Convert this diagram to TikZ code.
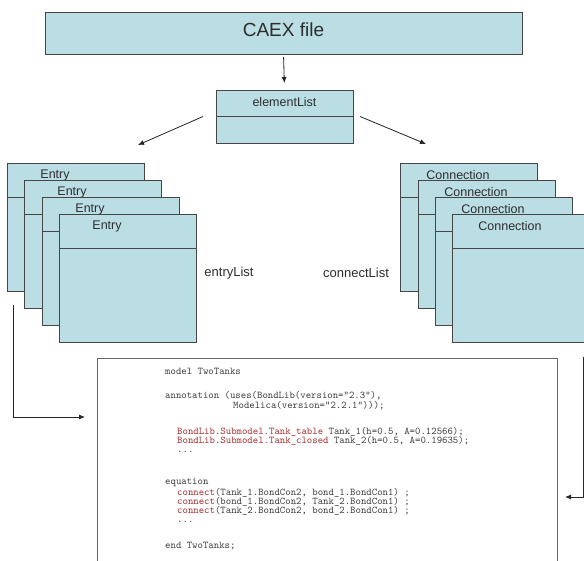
\documentclass[tikz,border=0pt]{standalone}
\usepackage{fontspec}
\setmainfont{Liberation Sans}
\usetikzlibrary{arrows.meta,calc}
\definecolor{boxfill}{RGB}{186,222,228}
\definecolor{boxline}{RGB}{70,70,70}
\definecolor{txt}{RGB}{45,45,45}
\definecolor{codetxt}{RGB}{60,60,60}
\definecolor{codered}{RGB}{165,45,45}
\newcommand{\rd}[1]{\textcolor{codered}{#1}}
\begin{document}
\begin{tikzpicture}[x=1pt,y=-1pt,
  box/.style={draw=boxline,fill=boxfill,line width=0.9pt,anchor=north west,
    minimum width=137pt,minimum height=128pt,inner sep=0pt,outer sep=0pt},
  divider/.style={draw=boxline,line width=0.9pt},
  lbl/.style={font=\fontsize{12.5}{14}\selectfont,text=txt,inner sep=0pt},
  side/.style={font=\fontsize{13}{15}\selectfont,text=txt,inner sep=0pt},
  arr/.style={-{Latex[length=6pt,width=5pt]},line width=0.8pt,draw=black!85},
  code/.style={font=\fontsize{10.3}{12}\ttfamily,text=codetxt,anchor=base west,
    inner sep=0pt,text height=5.5pt,text depth=1pt}]
\useasboundingbox (0,0) rectangle (584,561);
\fill[white] (0,0) rectangle (584,561);
\clip (0,0) rectangle (584,561);

% CAEX file
\node[box,minimum width=477pt,minimum height=42pt] (caex) at (45,12) {};
\node[font=\fontsize{19}{22}\selectfont,text=txt,inner sep=0pt] (caext) at ($(caex.center)+(0,-3)$) {CAEX file};

% elementList
\node[box,minimum width=137pt,minimum height=53pt] (el) at (216,90) {};
\draw[divider] ($(el.north west)+(0,26)$) -- ($(el.north east)+(0,26)$);
\node[lbl] (elt) at ($(el.north)+(0,12.5)$) {elementList};

% Entry stack
\foreach \i/\x/\y in {1/7/163,2/24/180,3/42/197,4/59/214}{
  \node[box] (e\i) at (\x,\y) {};
  \draw[divider] ($(e\i.north west)+(0,34)$) -- ($(e\i.north east)+(0,34)$);
  \node[lbl] (e\i t) at ($(e\i.north west)+(48,12)$) {Entry};
}

% Connection stack
\foreach \i/\x/\y in {1/400/163,2/418/180,3/435/197,4/452/214}{
  \node[box] (c\i) at (\x,\y) {};
  \draw[divider] ($(c\i.north west)+(0,34)$) -- ($(c\i.north east)+(0,34)$);
  \node[lbl] (c\i t) at ($(c\i.north west)+(58,12)$) {Connection};
}

\node[side] (elist) at (229,273) {entryList};
\node[side] (clist) at (356,273) {connectList};

% code box
\node[draw=black!60,fill=white,line width=0.8pt,anchor=north west,minimum width=460pt,
  minimum height=215pt,inner sep=0pt] (code) at (97,358) {};

\node[code] (l1) at (165,375) {model TwoTanks};
\node[code] (l2) at (165,399) {annotation (uses(BondLib(version="2.3"),};
\node[code] (l3) at (233,408) {Modelica(version="2.2.1")));};
\node[code] (l4) at (177,434) {\rd{BondLib.Submodel.Tank\_table} Tank\_1(h=0.5, A=0.12566);};
\node[code] (l5) at (177,443) {\rd{BondLib.Submodel.Tank\_closed} Tank\_2(h=0.5, A=0.19635);};
\node[code] (l6) at (177,452) {...};
\node[code] (l7) at (165,484) {equation};
\node[code] (l8) at (177,495) {\rd{connect}(Tank\_1.BondCon2, bond\_1.BondCon1) ;};
\node[code] (l9) at (177,504) {\rd{connect}(bond\_1.BondCon2, Tank\_2.BondCon1) ;};
\node[code] (l10) at (177,513) {\rd{connect}(Tank\_2.BondCon2, bond\_2.BondCon1) ;};
\node[code] (l11) at (177,522) {...};
\node[code] (l12) at (165,548) {end TwoTanks;};

% connectors
\draw[arr,shorten <=3pt,shorten >=7pt] (caex.south) -- (el.north);
\draw[arr] ([xshift=-13pt]el.west) -- ([xshift=-6pt,yshift=18pt]e1.north east);
\draw[arr] ([xshift=7pt]el.east) -- ([xshift=26pt,yshift=19pt]c1.north west);
\coordinate (lin) at (85,417);
\draw[arr] ([xshift=6pt,yshift=-14pt]e1.south west) |- (lin);
\coordinate (rtop) at (583,357);
\coordinate (rin) at (565,497);
\draw[arr] (rtop) |- (rin);
\end{tikzpicture}
\end{document}
